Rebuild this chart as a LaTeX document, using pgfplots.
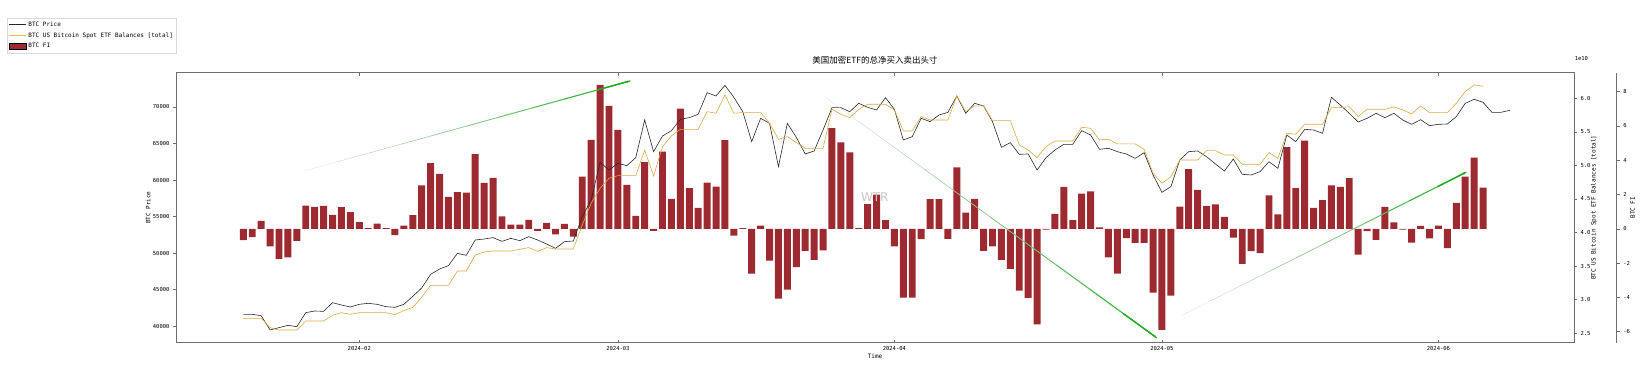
\documentclass[border=0pt]{standalone}
\usepackage{pgfplots}
\pgfplotsset{compat=1.18}
\usepackage{pgfplotstable}
\usepackage{fontspec}
\usetikzlibrary{arrows.meta}
\setmainfont{DejaVu Sans}
\newfontfamily\monof{DejaVu Sans Mono}
\newfontfamily\cjk{Noto Sans CJK SC}
\newcommand{\tickf}{\monof\fontsize{5.5}{6}\selectfont}
\newcommand{\labf}{\monof\fontsize{6}{7}\selectfont}
\definecolor{barred}{RGB}{156,42,48}
\definecolor{etfcol}{RGB}{220,168,70}
\definecolor{pricecol}{RGB}{40,40,40}
\definecolor{arrowgreen}{RGB}{34,170,34}
\definecolor{fadegray}{RGB}{220,220,220}
\definecolor{spine}{RGB}{110,110,110}

\pgfplotstableread{
day price
18 41637
19 41637
20 41455
21 39494
22 39813
23 40132
24 39950
25 41865
26 42093
27 42047
28 43233
29 42914
30 42640
31 43005
32 43142
33 43005
34 42686
35 42594
36 43005
37 44099
38 45239
39 47109
40 47838
41 48294
42 49982
43 49708
44 51806
45 51942
46 52125
47 51623
48 52034
49 51714
50 52262
51 51806
52 51258
53 50666
54 51578
55 51669
56 54998
57 57278
58 62430
59 61382
60 62294
61 61974
62 63069
63 68222
64 63890
65 66033
66 66762
67 68313
68 68541
69 68997
70 71961
71 71505
72 72964
73 71322
74 69362
75 65258
76 68450
77 67766
78 61838
79 67766
80 65850
81 63570
82 63981
83 66854
84 69909
85 69909
86 69362
87 70502
88 69954
89 69590
90 71277
91 69681
92 65486
93 65942
94 68450
95 67994
96 68906
97 69270
98 71505
99 69134
100 70502
101 70137
102 67994
103 64482
104 65121
105 63525
106 63570
107 61382
108 63069
109 64118
110 64893
111 64893
112 66762
113 66170
114 64209
115 64346
116 63890
117 63570
118 62978
119 63753
120 60698
121 58326
122 59102
123 62750
124 63890
125 63981
126 63206
127 62202
128 61245
129 62886
130 60789
131 60698
132 61154
133 62522
134 61610
135 66170
136 65258
137 66945
138 66854
139 66398
140 71322
141 70274
142 69134
143 67948
144 68450
145 69134
146 68541
147 69134
148 68222
149 67629
150 68267
151 67446
152 67629
153 67674
154 68678
155 70502
156 71049
157 70638
158 69270
159 69270
160 69544
}\pricetable

\pgfplotstableread{
day etf
18 2.723
19 2.723
20 2.723
21 2.584
22 2.549
23 2.549
24 2.549
25 2.683
26 2.683
27 2.683
28 2.768
29 2.807
30 2.783
31 2.807
32 2.807
33 2.807
34 2.807
35 2.778
36 2.837
37 2.887
38 3.036
39 3.214
40 3.214
41 3.214
42 3.428
43 3.428
44 3.666
45 3.711
46 3.726
47 3.726
48 3.726
49 3.751
50 3.776
51 3.721
52 3.776
53 3.756
54 3.756
55 3.756
56 4.113
57 4.436
58 4.659
59 4.808
60 4.848
61 4.848
62 4.848
63 5.230
64 4.843
65 5.280
66 5.439
67 5.538
68 5.538
69 5.538
70 5.801
71 5.777
72 6.050
73 5.777
74 5.787
75 5.787
76 5.787
77 5.628
78 5.389
79 5.429
80 5.340
81 5.255
82 5.255
83 5.255
84 5.836
85 5.762
86 5.712
87 5.836
88 5.911
89 5.911
90 5.911
91 5.826
92 5.513
93 5.513
94 5.727
95 5.677
96 5.677
97 5.677
98 6.035
99 5.801
100 5.886
101 5.886
102 5.667
103 5.667
104 5.667
105 5.305
106 5.230
107 5.116
108 5.280
109 5.364
110 5.364
111 5.364
112 5.568
113 5.553
114 5.379
115 5.389
116 5.320
117 5.320
118 5.320
119 5.240
120 4.883
121 4.734
122 4.833
123 5.081
124 5.081
125 5.081
126 5.220
127 5.220
128 5.156
129 5.156
130 5.017
131 5.017
132 5.017
133 5.191
134 5.106
135 5.479
136 5.464
137 5.613
138 5.613
139 5.613
140 5.861
141 5.861
142 5.876
143 5.727
144 5.836
145 5.836
146 5.836
147 5.871
148 5.826
149 5.767
150 5.886
151 5.787
152 5.787
153 5.787
154 5.926
155 6.099
156 6.199
157 6.179
}\etftable

\pgfplotstableread{
day fi
18 -0.66
19 -0.49
20 0.47
21 -1.03
22 -1.75
23 -1.67
24 -0.70
25 1.36
26 1.28
27 1.34
28 0.82
29 1.26
30 0.97
31 0.39
32 0.04
33 0.31
34 0.04
35 -0.37
36 0.19
37 0.80
38 2.53
39 3.83
40 3.21
41 1.87
42 2.14
43 2.12
44 4.36
45 2.68
46 2.98
47 0.72
48 0.25
49 0.25
50 0.53
51 -0.12
52 0.35
53 -0.33
54 0.29
55 -0.45
56 3.05
57 5.19
58 8.40
59 7.18
60 5.78
61 2.57
62 0.76
63 3.89
64 -0.12
65 4.51
66 1.75
67 7.02
68 2.37
69 1.23
70 2.70
71 2.47
72 5.18
73 -0.39
74 0.04
75 -2.61
76 0.19
77 -1.85
78 -4.07
79 -3.54
80 -2.24
81 -1.28
82 -1.81
83 -1.25
84 5.88
85 5.04
86 4.46
87 0.04
88 1.44
89 2.00
90 0.51
91 -1.03
92 -4.01
93 -4.01
94 -0.60
95 1.73
96 1.73
97 -0.58
98 3.58
99 0.95
100 1.75
101 -1.28
102 -1.03
103 -1.81
104 -2.33
105 -3.60
106 -4.03
107 -5.58
108 -0.04
109 0.88
110 2.45
111 0.51
112 2.06
113 2.18
114 0.08
115 -1.67
116 -2.61
117 -0.54
118 -0.82
119 -0.82
120 -3.72
121 -5.89
122 -3.89
123 1.30
124 3.48
125 2.28
126 1.34
127 1.42
128 0.70
129 -0.51
130 -2.04
131 -1.30
132 -1.42
133 1.95
134 0.84
135 4.77
136 2.37
137 5.14
138 1.23
139 1.67
140 2.53
141 2.45
142 2.96
143 -1.50
144 -0.14
145 -0.64
146 1.28
147 0.37
148 -0.04
149 -0.80
150 0.18
151 -0.56
152 0.19
153 -1.13
154 1.52
155 3.05
156 4.16
157 2.41
}\fitable

\pgfplotsset{
  base/.style={
    scale only axis, width=1398pt, height=270pt,
    at={(176pt,26.3pt)}, anchor=south west,
    xmin=10.45, xmax=167.2,
    tick label style={font=\tickf},
    label style={font=\labf},
    /pgf/number format/assume math mode=true,
    axis line style={draw=spine, line width=0.6pt},
    major tick length=3pt,
    every tick/.style={spine, line width=0.5pt},
  }
}

\newcommand{\gradarrow}[4]{%
  \pgfplotsinvokeforeach{0,...,9}{
    \draw[line width={0.3pt+0.11pt*##1}, arrowgreen!##10!fadegray, line cap=round]
      (axis cs:{#1+(#3-#1)*##1/10},{#2+(#4-#2)*##1/10}) --
      (axis cs:{#1+(#3-#1)*(##1+1)/10},{#2+(#4-#2)*(##1+1)/10});
  }
  \draw[-{Latex[length=3pt,width=2.6pt]}, line width=1.3pt, arrowgreen]
    (axis cs:{#1+(#3-#1)*0.9},{#2+(#4-#2)*0.9}) -- (axis cs:#3,#4);
}

\begin{document}
\begin{tikzpicture}
\useasboundingbox (0,0) rectangle (1647pt,369pt);

% bars (FI)
\begin{axis}[base,
  ymin=-6.642, ymax=9.109,
  hide y axis,
  xtick={31,60,91,121,152}, xticklabels={},
  xtick pos=both, tick align=inside,
]
\addplot[ybar, bar width=0.78, fill=barred, draw=none]
  table[x=day, y=fi] {\fitable};
\end{axis}

% price
\begin{axis}[base,
  ymin=37756, ymax=74692,
  ytick={40000,45000,50000,55000,60000,65000,70000},
  ytick pos=left, tick align=outside,
  yticklabel style={/pgf/number format/1000 sep={}},
  scaled y ticks=false,
  xtick={31,60,91,121,152},
  xticklabels={2024-02,2024-03,2024-04,2024-05,2024-06},
  xtick pos=bottom, major x tick style={draw=none},
  xticklabel style={yshift=2.5pt},
  ylabel={BTC Price},
  ylabel style={at={(axis description cs:-0.020,0.5)}, anchor=center},
  xlabel={Time},
  xlabel style={at={(axis description cs:0.5,-0.052)}, anchor=center},
  title={美国加密ETF的总净买入卖出头寸},
  title style={at={(axis description cs:0.5,1.024)}, anchor=center, font=\cjk\fontsize{8.5}{9}\selectfont, inner sep=0pt},
  legend style={at={(axis description cs:-0.1209,1.2026)}, anchor=north west,
    draw=black!15, font=\labf, fill=white, inner sep=1.5pt, row sep=0.8pt,
    cells={anchor=west}},
  legend image post style={line width=0.7pt},
]
\addplot[pricecol, line width=0.6pt, forget plot] table[x=day, y=price] {\pricetable};
\addlegendimage{pricecol, line width=0.7pt}
\addlegendentry{BTC Price}
\addlegendimage{etfcol!70!yellow, line width=0.7pt}
\addlegendentry{BTC US Bitcoin Spot ETF Balances [total]}
\addlegendimage{area legend, fill=barred, draw=none}
\addlegendentry{BTC FI}
\end{axis}

% ETF balances
\begin{axis}[base,
  ymin=2.360, ymax=6.381,
  axis y line*=right, axis x line=none,
  ytick={2.5,3.0,3.5,4.0,4.5,5.0,5.5,6.0},
  tick align=outside,
  yticklabel style={/pgf/number format/.cd, fixed, fixed zerofill, precision=1},
  scaled y ticks=false,
  ylabel={BTC US Bitcoin Spot ETF Balances [total]},
  ylabel style={at={(axis description cs:1.0143,0.5)}, anchor=center},
  clip=false,
]
\addplot[etfcol, line width=0.6pt] table[x=day, y=etf] {\etftable};
\node[font=\fontsize{12}{12}\selectfont, text=black!22] at (axis cs:88.8,4.534) {WTR};
\gradarrow{24.8}{4.917}{61.35}{6.258}
\gradarrow{83.2}{6.019}{120.4}{2.434}
\gradarrow{123.3}{2.772}{155.1}{4.898}
\node[font=\tickf] at (axis description cs:1.0053,1.0544) {1e10};
\end{axis}

% FI outer axis
\begin{axis}[
  scale only axis, width=1398pt, height=270pt,
  at={(218.7pt,26.3pt)}, anchor=south west,
  xmin=0, xmax=1, ymin=-6.642, ymax=9.109,
  axis y line*=right, axis x line=none,
  ytick={-6,-4,-2,0,2,4,6,8},
  tick align=outside,
  tick label style={font=\tickf},
  label style={font=\labf},
  /pgf/number format/assume math mode=true,
  axis line style={draw=spine, line width=0.6pt},
  major tick length=3pt,
  every tick/.style={spine, line width=0.5pt},
  ylabel={BTC FI},
  ylabel style={at={(axis description cs:1.0114,0.5)}, anchor=center},
]
\addplot[draw=none] coordinates {(0.5,0)};
\end{axis}
\end{tikzpicture}
\end{document}
